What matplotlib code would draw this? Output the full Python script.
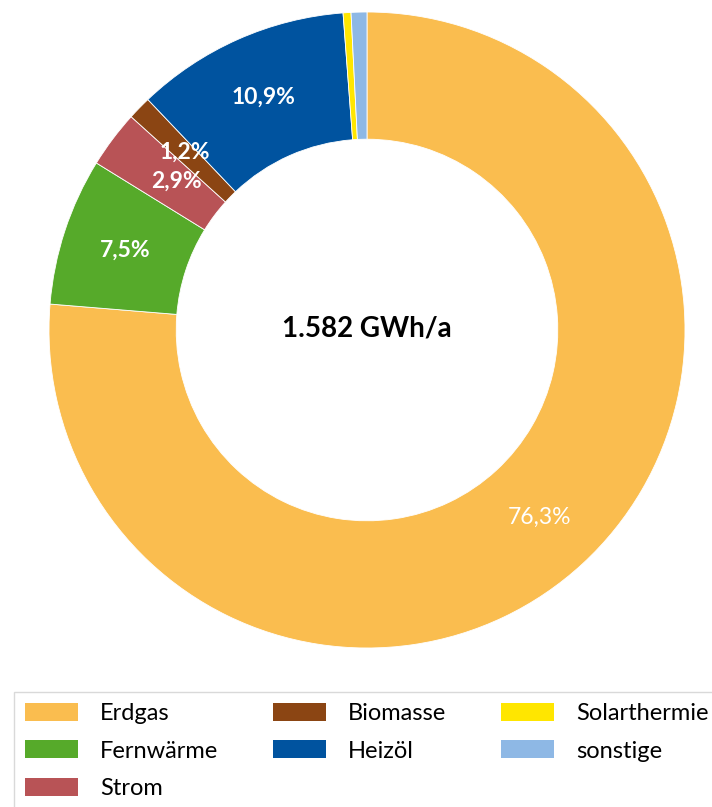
import numpy as np
import matplotlib
matplotlib.use('Agg')
import matplotlib.pyplot as plt
from matplotlib.patches import Patch

plt.rcParams['font.family'] = ['Lato', 'DejaVu Sans']

categories = ['Erdgas', 'Fernwärme', 'Strom', 'Biomasse', 'Heizöl', 'Solarthermie', 'sonstige']
shares = [76.3, 7.5, 2.9, 1.2, 10.9, 0.4, 0.8]
labels = ['76,3%', '7,5%', '2,9%', '1,2%', '10,9%', '', '']
colors = ['#FABD4F', '#56AA2A', '#B85356', '#8B4513', '#00539F', '#FFE600', '#8EB8E5']
total_text = '1.582 GWh/a'

fig = plt.figure(figsize=(7.12, 8.07), dpi=100)
ax = fig.add_axes([49 / 712, 1 - 648 / 807, 636 / 712, 636 / 807])

ring = 0.40
wedges, _ = ax.pie(shares, colors=colors, startangle=90, counterclock=False,
                   radius=1, wedgeprops=dict(width=ring, edgecolor='white', linewidth=0.6))

# labels in the middle of the ring; the small Strom label sits a bit inward like Excel puts it
r_mid = 1 - ring / 2
nudge = {2: (9, -3)}
for i, (w, lab) in enumerate(zip(wedges, labels)):
    if not lab:
        continue
    ang = np.deg2rad((w.theta1 + w.theta2) / 2)
    x, y = r_mid * np.cos(ang), r_mid * np.sin(ang)
    weight = 'normal' if i == 0 else 'bold'
    ax.annotate(lab, (x, y), xytext=nudge.get(i, (0, 0)), textcoords='offset points',
                ha='center', va='center', color='white', fontsize=16.5, fontweight=weight)

ax.text(0, 0.005, total_text, ha='center', va='center', fontsize=20, fontweight='bold', color='black')
ax.set_xlim(-1, 1)
ax.set_ylim(-1, 1)
ax.set_aspect('equal')
ax.axis('off')

handles = [Patch(facecolor=c, edgecolor='none') for c in colors]
leg = fig.legend(handles, categories, ncol=3, loc='upper left',
                 bbox_to_anchor=(14 / 712, 1 - 692 / 807), fontsize=17,
                 handlelength=2.25, handleheight=0.8, handletextpad=0.95,
                 columnspacing=2.3, labelspacing=0.7, frameon=True,
                 fancybox=False, edgecolor='#d0d0d0', borderpad=0.45,
                 borderaxespad=0)
leg.get_frame().set_linewidth(1.0)

fig.savefig('out.png', dpi=100)
